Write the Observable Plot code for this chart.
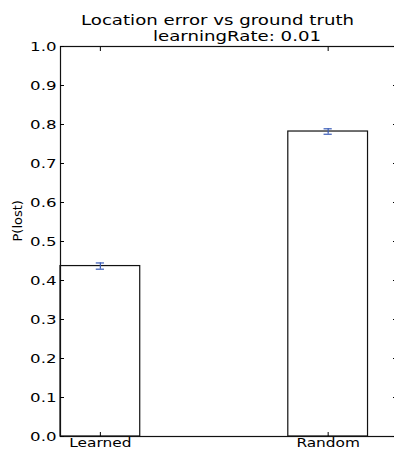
<!DOCTYPE html>
<html>
<head>
<meta charset="utf-8">
<script src="https://cdn.jsdelivr.net/npm/d3@7"></script>
<script src="https://cdn.jsdelivr.net/npm/@observablehq/plot@0.6"></script>
<style>
  html, body { margin: 0; padding: 0; background: #fff; }
  svg { display: block; overflow: visible; }
  svg, svg text { font-family: "DejaVu Sans", sans-serif !important; }
</style>
</head>
<body>
<div id="chart"></div>
<script>
const categories = ["Learned", "Random"];
const values = [0.437, 0.782];
const errors = [0.008, 0.007];
const yTicks = [0, 0.1, 0.2, 0.3, 0.4, 0.5, 0.6, 0.7, 0.8, 0.9, 1.0];
const titleLines = ["Location error vs ground truth", "learningRate: 0.01"];
const yLabel = "P(lost)";

const barWidth = 0.35;
const capHalf = 0.018;
const textStretch = 1.28;
const data = categories.map((c, i) => ({cat: c, i, v: values[i], e: errors[i]}));

const font = "'DejaVu Sans', sans-serif";

const chart = Plot.plot({
  width: 394,
  height: 451,
  marginLeft: 60,
  marginRight: -2,
  marginTop: 46,
  marginBottom: 15,
  style: {fontFamily: font, fontSize: "13px", color: "#000", background: "#fff", overflow: "visible"},
  x: {domain: [-barWidth / 2, 1.3], axis: null},
  y: {domain: [0, 1], axis: null},
  marks: [
    Plot.rect(data, {x1: d => d.i - barWidth / 2, x2: d => d.i + barWidth / 2, y1: 0, y2: "v", fill: "white", stroke: "#111", strokeWidth: 1.2}),
    Plot.ruleX(data, {x: "i", y1: d => d.v - d.e, y2: d => d.v + d.e, stroke: "#3a5cb8", strokeWidth: 1.2}),
    Plot.ruleY(data, {y: d => d.v - d.e, x1: d => d.i - capHalf, x2: d => d.i + capHalf, stroke: "#3a5cb8", strokeWidth: 1.2}),
    Plot.ruleY(data, {y: d => d.v + d.e, x1: d => d.i - capHalf, x2: d => d.i + capHalf, stroke: "#3a5cb8", strokeWidth: 1.2}),
    Plot.frame({stroke: "#111", strokeWidth: 1.2}),
    Plot.axisY(yTicks, {anchor: "left", tickSize: -4, tickPadding: 8, tickFormat: d3.format(".1f"), label: null, fontSize: 13}),
    Plot.axisY(yTicks, {anchor: "right", tickSize: -4, tickFormat: () => "", label: null}),
    Plot.axisX([0, 1], {anchor: "bottom", tickSize: -4, tickPadding: 6, tickFormat: i => categories[i], label: null, fontSize: 12}),
    Plot.axisX([0, 1], {anchor: "top", tickSize: -4, tickFormat: () => "", label: null}),
    Plot.text([yLabel], {frameAnchor: "left", dx: -43, rotate: -90, fontSize: 13, fill: "#000"}),
    Plot.text([titleLines[0]], {frameAnchor: "top", dx: -11, dy: -32, fontSize: 14.2, fill: "#000"}),
    Plot.text([titleLines[1]], {frameAnchor: "top", dx: 8.5, dy: -16, fontSize: 14.2, fill: "#000"})
  ]
});
document.getElementById("chart").appendChild(chart);

// Widen glyphs horizontally (the reference text is rendered wide), keeping each anchor point fixed.
d3.select(chart).selectAll("text").each(function () {
  if (this.textContent === yLabel) return;
  const x = +(this.getAttribute("x") || 0);
  const t = this.getAttribute("transform") || "";
  this.setAttribute("transform", `${t} translate(${x},0) scale(${textStretch},1) translate(${-x},0)`);
});
</script>
</body>
</html>
